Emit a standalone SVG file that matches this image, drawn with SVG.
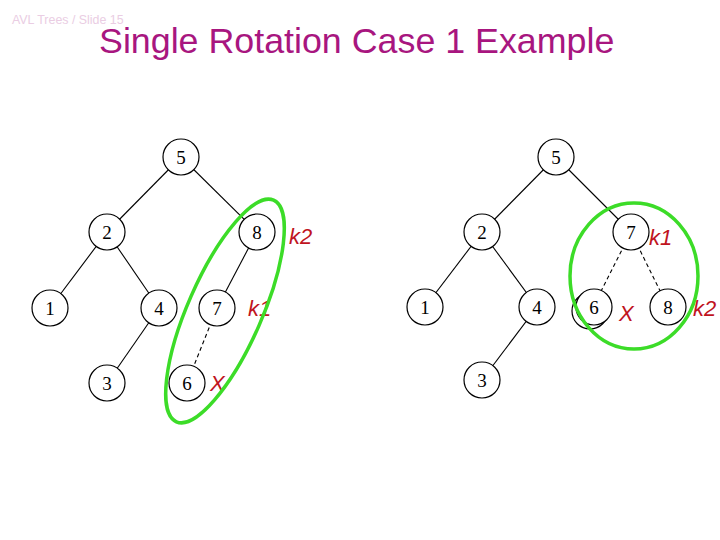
<svg xmlns="http://www.w3.org/2000/svg" width="720" height="540" viewBox="0 0 720 540">
<style>
.nd{fill:#fff;stroke:#000;stroke-width:1.2}
.nt{font-family:"Liberation Serif","Times New Roman",serif;font-size:19px;text-anchor:middle;fill:#000}
.ed{stroke:#000;stroke-width:1.1;fill:none}
.dash{stroke-dasharray:4,3}
.lb{font-family:"Liberation Sans",Arial,sans-serif;font-style:italic;font-size:22px;fill:#C0141E}
.ring{fill:none;stroke:#3CDC28;stroke-width:3.5}
</style>
<rect width="720" height="540" fill="#fff"/>
<text x="12" y="24" font-family="Liberation Sans,Arial,sans-serif" font-size="12.4" fill="#EACDE3">AVL Trees / Slide 15</text>
<text x="99" y="53" font-family="Liberation Sans,Arial,sans-serif" font-size="35.8" fill="#A8167F">Single Rotation Case 1 Example</text>
<g id="connectors">
<line class="ed" x1="181" y1="157" x2="107" y2="232"/>
<line class="ed" x1="181" y1="157" x2="257" y2="232"/>
<line class="ed" x1="107" y1="232" x2="50" y2="308"/>
<line class="ed" x1="107" y1="232" x2="159" y2="308"/>
<line class="ed" x1="257" y1="232" x2="217" y2="308"/>
<line class="ed" x1="159" y1="308" x2="107" y2="383"/>
<line class="ed dash" x1="217" y1="308" x2="187" y2="383"/>
<line class="ed" x1="556" y1="157" x2="482" y2="232"/>
<line class="ed" x1="556" y1="157" x2="631" y2="232"/>
<line class="ed" x1="482" y1="232" x2="425" y2="307"/>
<line class="ed" x1="482" y1="232" x2="537" y2="307"/>
<line class="ed" x1="537" y1="307" x2="482" y2="380"/>
<line class="ed dash" x1="631" y1="232" x2="593" y2="307"/>
<line class="ed dash" x1="631" y1="232" x2="668" y2="307"/>
</g>
<g id="L5"><circle class="nd" cx="181" cy="157" r="18"/><text class="nt" x="181" y="164">5</text></g>
<g id="L2"><circle class="nd" cx="107" cy="232" r="18"/><text class="nt" x="107" y="239">2</text></g>
<g id="L8"><circle class="nd" cx="257" cy="232" r="18"/><text class="nt" x="257" y="239">8</text></g>
<g id="L1"><circle class="nd" cx="50" cy="308" r="18"/><text class="nt" x="50" y="315">1</text></g>
<g id="L4"><circle class="nd" cx="159" cy="308" r="18"/><text class="nt" x="159" y="315">4</text></g>
<g id="L7"><circle class="nd" cx="217" cy="308" r="18"/><text class="nt" x="217" y="315">7</text></g>
<g id="L3"><circle class="nd" cx="107" cy="383" r="18"/><text class="nt" x="107" y="390">3</text></g>
<g id="L6"><circle class="nd" cx="187" cy="383" r="18"/><text class="nt" x="187" y="390">6</text></g>
<g id="R5"><circle class="nd" cx="556" cy="157" r="18"/><text class="nt" x="556" y="164">5</text></g>
<g id="R2"><circle class="nd" cx="482" cy="232" r="18"/><text class="nt" x="482" y="239">2</text></g>
<g id="R7"><circle class="nd" cx="631" cy="232" r="18"/><text class="nt" x="631" y="239">7</text></g>
<g id="R1"><circle class="nd" cx="425" cy="307" r="18"/><text class="nt" x="425" y="314">1</text></g>
<g id="R4"><circle class="nd" cx="537" cy="307" r="18"/><text class="nt" x="537" y="314">4</text></g>
<g id="R6"><circle class="nd" cx="590" cy="311" r="18"/><circle class="nd" cx="594" cy="307" r="18"/><text class="nt" x="594" y="314">6</text></g>
<g id="R8"><circle class="nd" cx="668" cy="307" r="18"/><text class="nt" x="668" y="314">8</text></g>
<g id="R3"><circle class="nd" cx="482" cy="380" r="18"/><text class="nt" x="482" y="387">3</text></g>
<g id="labels">
<text class="lb" x="289" y="244">k2</text>
<text class="lb" x="248" y="316">k1</text>
<text class="lb" x="210" y="391">X</text>
<text class="lb" x="649" y="245">k1</text>
<text class="lb" x="619" y="321">X</text>
<text class="lb" x="693" y="316">k2</text>
</g>
<g id="highlights">
<ellipse class="ring" cx="225" cy="311" rx="121" ry="37" transform="rotate(-66.3 225 311)"/>
<ellipse class="ring" cx="634" cy="276" rx="64" ry="73"/>
</g>
</svg>
